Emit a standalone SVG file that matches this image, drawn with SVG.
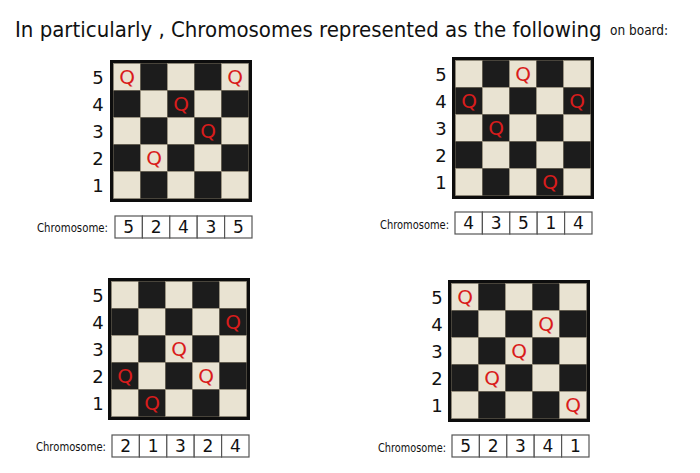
<svg xmlns="http://www.w3.org/2000/svg" xmlns:xlink="http://www.w3.org/1999/xlink" width="700" height="473" viewBox="0 0 700 473">
<style>
.title{font-family:"DejaVu Sans Condensed","DejaVu Sans",sans-serif;fill:#111;}
.lbl{font-family:"DejaVu Sans",sans-serif;font-size:18px;fill:#111;text-anchor:middle;dominant-baseline:central;}
.q{font-family:"DejaVu Sans",sans-serif;font-size:20px;fill:#d91c1c;text-anchor:middle;dominant-baseline:central;}
.chl{font-family:"DejaVu Sans Condensed","DejaVu Sans",sans-serif;font-size:13px;fill:#111;}
.cell{fill:#fff;stroke:#555;stroke-width:1.2;}
.dig{font-family:"DejaVu Sans",sans-serif;font-size:17px;fill:#111;text-anchor:middle;dominant-baseline:central;}
.lt{fill:#e9e3d2;stroke:#9a927f;stroke-width:0.6;}
.dk{fill:#1c1c1c;stroke:#6b6455;stroke-width:0.6;}
</style>
<defs>
<g id="board">
<rect x="0" y="0" width="142" height="142" fill="#0d0d0d"/>
<rect class="lt" x="3.5" y="3.5" width="27" height="27"/><rect class="dk" x="30.5" y="3.5" width="27" height="27"/><rect class="lt" x="57.5" y="3.5" width="27" height="27"/><rect class="dk" x="84.5" y="3.5" width="27" height="27"/><rect class="lt" x="111.5" y="3.5" width="27" height="27"/>
<rect class="dk" x="3.5" y="30.5" width="27" height="27"/><rect class="lt" x="30.5" y="30.5" width="27" height="27"/><rect class="dk" x="57.5" y="30.5" width="27" height="27"/><rect class="lt" x="84.5" y="30.5" width="27" height="27"/><rect class="dk" x="111.5" y="30.5" width="27" height="27"/>
<rect class="lt" x="3.5" y="57.5" width="27" height="27"/><rect class="dk" x="30.5" y="57.5" width="27" height="27"/><rect class="lt" x="57.5" y="57.5" width="27" height="27"/><rect class="dk" x="84.5" y="57.5" width="27" height="27"/><rect class="lt" x="111.5" y="57.5" width="27" height="27"/>
<rect class="dk" x="3.5" y="84.5" width="27" height="27"/><rect class="lt" x="30.5" y="84.5" width="27" height="27"/><rect class="dk" x="57.5" y="84.5" width="27" height="27"/><rect class="lt" x="84.5" y="84.5" width="27" height="27"/><rect class="dk" x="111.5" y="84.5" width="27" height="27"/>
<rect class="lt" x="3.5" y="111.5" width="27" height="27"/><rect class="dk" x="30.5" y="111.5" width="27" height="27"/><rect class="lt" x="57.5" y="111.5" width="27" height="27"/><rect class="dk" x="84.5" y="111.5" width="27" height="27"/><rect class="lt" x="111.5" y="111.5" width="27" height="27"/>
</g>
<g id="labels">
<text class="lbl" x="0" y="17">5</text>
<text class="lbl" x="0" y="44">4</text>
<text class="lbl" x="0" y="71">3</text>
<text class="lbl" x="0" y="98">2</text>
<text class="lbl" x="0" y="125">1</text>
</g>
<g id="chbox">
<rect class="cell" x="0" y="0" width="27.4" height="22"/>
<rect class="cell" x="27.4" y="0" width="27.4" height="22"/>
<rect class="cell" x="54.8" y="0" width="27.4" height="22"/>
<rect class="cell" x="82.2" y="0" width="27.4" height="22"/>
<rect class="cell" x="109.6" y="0" width="27.4" height="22"/>
</g>
</defs>
<rect width="700" height="473" fill="#fff"/>
<g id="title">
<text class="title" x="15" y="37" font-size="22">In particularly , Chromosomes represented as the following</text>
<text class="title" x="610" y="35" font-size="13.5">on board:</text>
</g>
<g id="board1">
<use xlink:href="#labels" transform="translate(98,60)"/>
<g transform="translate(110,60)">
<use xlink:href="#board"/>
<text class="q" x="17" y="17">Q</text>
<text class="q" x="44" y="98">Q</text>
<text class="q" x="71" y="44">Q</text>
<text class="q" x="98" y="71">Q</text>
<text class="q" x="125" y="17">Q</text>
</g>
</g>
<g id="board2">
<use xlink:href="#labels" transform="translate(441,57)"/>
<g transform="translate(452,57)">
<use xlink:href="#board"/>
<text class="q" x="17" y="44">Q</text>
<text class="q" x="44" y="71">Q</text>
<text class="q" x="71" y="17">Q</text>
<text class="q" x="98" y="125">Q</text>
<text class="q" x="125" y="44">Q</text>
</g>
</g>
<g id="board3">
<use xlink:href="#labels" transform="translate(98,278)"/>
<g transform="translate(108,278)">
<use xlink:href="#board"/>
<text class="q" x="17" y="98">Q</text>
<text class="q" x="44" y="125">Q</text>
<text class="q" x="71" y="71">Q</text>
<text class="q" x="98" y="98">Q</text>
<text class="q" x="125" y="44">Q</text>
</g>
</g>
<g id="board4">
<use xlink:href="#labels" transform="translate(437,280)"/>
<g transform="translate(448,280)">
<use xlink:href="#board"/>
<text class="q" x="17" y="17">Q</text>
<text class="q" x="44" y="98">Q</text>
<text class="q" x="71" y="71">Q</text>
<text class="q" x="98" y="44">Q</text>
<text class="q" x="125" y="125">Q</text>
</g>
</g>
<g id="chrom1">
<text class="chl" x="37" y="232" textLength="71" lengthAdjust="spacingAndGlyphs">Chromosome:</text>
<g transform="translate(115,216)">
<use xlink:href="#chbox"/>
<text class="dig" x="13.7" y="11">5</text><text class="dig" x="41.1" y="11">2</text><text class="dig" x="68.5" y="11">4</text><text class="dig" x="95.9" y="11">3</text><text class="dig" x="123.3" y="11">5</text>
</g>
</g>
<g id="chrom2">
<text class="chl" x="380" y="229" textLength="69" lengthAdjust="spacingAndGlyphs">Chromosome:</text>
<g transform="translate(455,212)">
<use xlink:href="#chbox"/>
<text class="dig" x="13.7" y="11">4</text><text class="dig" x="41.1" y="11">3</text><text class="dig" x="68.5" y="11">5</text><text class="dig" x="95.9" y="11">1</text><text class="dig" x="123.3" y="11">4</text>
</g>
</g>
<g id="chrom3">
<text class="chl" x="36" y="451" textLength="70" lengthAdjust="spacingAndGlyphs">Chromosome:</text>
<g transform="translate(112,435)">
<use xlink:href="#chbox"/>
<text class="dig" x="13.7" y="11">2</text><text class="dig" x="41.1" y="11">1</text><text class="dig" x="68.5" y="11">3</text><text class="dig" x="95.9" y="11">2</text><text class="dig" x="123.3" y="11">4</text>
</g>
</g>
<g id="chrom4">
<text class="chl" x="378" y="452" textLength="68" lengthAdjust="spacingAndGlyphs">Chromosome:</text>
<g transform="translate(452,435)">
<use xlink:href="#chbox"/>
<text class="dig" x="13.7" y="11">5</text><text class="dig" x="41.1" y="11">2</text><text class="dig" x="68.5" y="11">3</text><text class="dig" x="95.9" y="11">4</text><text class="dig" x="123.3" y="11">1</text>
</g>
</g>
</svg>
